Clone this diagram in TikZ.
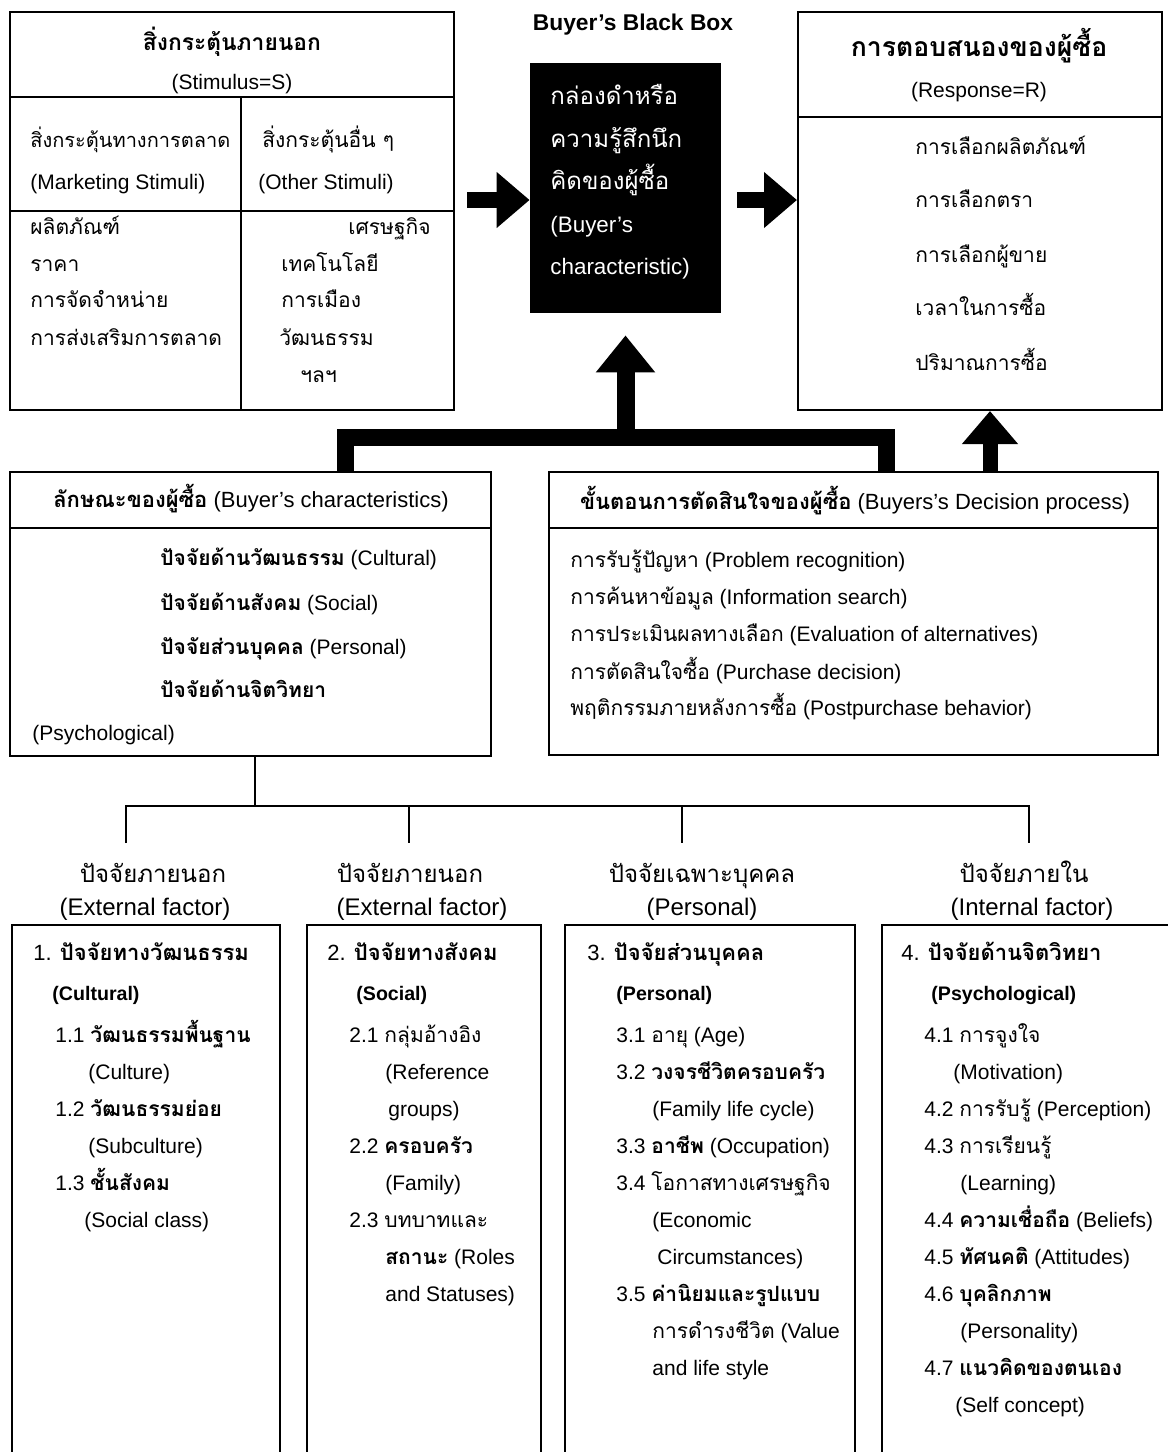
\documentclass[tikz,border=0pt]{standalone}
\usepackage{fontspec}
\setmainfont{Liberation Sans}
\newfontfamily\thai[Script=Thai]{Loma}
\newcommand{\tha}[1]{{\thai #1}}
\newcommand{\thb}[1]{{\thai\bfseries #1}}
\usetikzlibrary{positioning,fit,arrows.meta}

\tikzset{
  frame/.style = {draw, line width=1pt, inner sep=0pt},
  txt/.style = {anchor=base west, inner sep=0pt, font=\fontsize{10.5}{12}\selectfont},
  ctxt/.style = {anchor=base, inner sep=0pt, font=\fontsize{10.5}{12}\selectfont},
  head/.style = {font=\fontsize{11}{13}\selectfont},
  sub/.style = {font=\fontsize{9.8}{11}\selectfont\bfseries},
  lbl/.style = {anchor=base, inner sep=0pt, font=\fontsize{12}{14}\selectfont},
  fatline/.style = {line width=8.5pt, line join=miter},
  fatarrow/.style = {line width=8pt, -{Triangle[length=16.5pt,width=27pt]}},
  tree/.style = {line width=1pt}
}

\begin{document}
\begin{tikzpicture}[x=0.5pt, y=-0.5pt]
        \useasboundingbox (0,0) rectangle (1168,1452);
        \clip (0,0) rectangle (1168,1452);

        % stimulus box
        \node [frame, fit={(10,12) (454,410)}] (stim) {};
        \draw [tree] (10,97) -- (454,97);
        \draw [tree] (10,211) -- (454,211);
        \draw [tree] (241,97) -- (241,410);
        \node [ctxt, font=\fontsize{11.4}{14}\selectfont] (s0) at (232,50) {\thb{สิ่งกระตุ้นภายนอก}};
        \node [ctxt] (s1) at (232,89) {(Stimulus=S)};
        \node [txt, font=\fontsize{10}{12}\selectfont] (s2) at (30,147) {\tha{สิ่งกระตุ้นทางการตลาด}};
        \node [txt] (s3) at (30,189) {(Marketing Stimuli)};
        \node [txt] (s4) at (262,147) {\tha{สิ่งกระตุ้นอื่น ๆ}};
        \node [txt] (s5) at (258,189) {(Other Stimuli)};
        \node [txt] (s6) at (30,234) {\tha{ผลิตภัณฑ์}};
        \node [txt] (s7) at (30,271) {\tha{ราคา}};
        \node [txt] (s8) at (30,307) {\tha{การจัดจำหน่าย}};
        \node [txt] (s9) at (30,345) {\tha{การส่งเสริมการตลาด}};
        \node [txt] (s10) at (348,234) {\tha{เศรษฐกิจ}};
        \node [txt] (s11) at (281,271) {\tha{เทคโนโลยี}};
        \node [txt] (s12) at (281,307) {\tha{การเมือง}};
        \node [txt] (s13) at (279,345) {\tha{วัฒนธรรม}};
        \node [txt] (s14) at (300,382) {\tha{ฯลฯ}};

        % black box
        \node [ctxt, font=\fontsize{11.4}{14}\selectfont\bfseries] (title) at (633,30) {Buyer's Black Box};
        \node [fill=black, inner sep=0pt, fit={(530,63) (721,313)}] (bbox) {};
        \node [txt, white, font=\fontsize{12}{14}\selectfont] (b1) at (550,104) {\tha{กล่องดำหรือ}};
        \node [txt, white, font=\fontsize{12}{14}\selectfont] (b2) at (550,147) {\tha{ความรู้สึกนึก}};
        \node [txt, white, font=\fontsize{12}{14}\selectfont] (b3) at (550,189) {\tha{คิดของผู้ซื้อ}};
        \node [txt, white, font=\fontsize{11.2}{13}\selectfont] (b4) at (550,232) {(Buyer's};
        \node [txt, white, font=\fontsize{11.2}{13}\selectfont] (b5) at (550,274) {characteristic)};

        % response box
        \node [frame, fit={(798,12) (1162,410)}] (resp) {};
        \draw [tree] (798,117) -- (1162,117);
        \node [ctxt, font=\fontsize{13.3}{15}\selectfont] (r0) at (979,56) {\thb{การตอบสนองของผู้ซื้อ}};
        \node [ctxt] (r1) at (979,97) {(Response=R)};
        \node [txt] (r2) at (915,154) {\tha{การเลือกผลิตภัณฑ์}};
        \node [txt] (r3) at (915,207) {\tha{การเลือกตรา}};
        \node [txt] (r4) at (915,262) {\tha{การเลือกผู้ขาย}};
        \node [txt] (r5) at (915,315) {\tha{เวลาในการซื้อ}};
        \node [txt] (r6) at (915,370) {\tha{ปริมาณการซื้อ}};

        % buyer's characteristics
        \node [frame, fit={(10,472) (491,756)}] (char) {};
        \draw [tree] (10,528) -- (491,528);
        \node [ctxt, head] (c0) at (251,507) {\thb{ลักษณะของผู้ซื้อ} (Buyer's characteristics)};
        \node [txt] (c1) at (160,565) {\thb{ปัจจัยด้านวัฒนธรรม} (Cultural)};
        \node [txt] (c2) at (160,610) {\thb{ปัจจัยด้านสังคม} (Social)};
        \node [txt] (c3) at (160,654) {\thb{ปัจจัยส่วนบุคคล} (Personal)};
        \node [txt] (c4) at (160,697) {\thb{ปัจจัยด้านจิตวิทยา}};
        \node [txt] (c5) at (32,740) {(Psychological)};

        % decision process
        \node [frame, fit={(549,472) (1158,755)}] (dec) {};
        \draw [tree] (549,528) -- (1158,528);
        \node [ctxt, head] (d0) at (855,509) {\thb{ขั้นตอนการตัดสินใจของผู้ซื้อ} (Buyers's Decision process)};
        \node [txt] (d1) at (570,567) {\tha{การรับรู้ปัญหา} (Problem recognition)};
        \node [txt] (d2) at (570,604) {\tha{การค้นหาข้อมูล} (Information search)};
        \node [txt] (d3) at (570,641) {\tha{การประเมินผลทางเลือก} (Evaluation of alternatives)};
        \node [txt] (d4) at (570,679) {\tha{การตัดสินใจซื้อ} (Purchase decision)};
        \node [txt] (d5) at (570,715) {\tha{พฤติกรรมภายหลังการซื้อ} (Postpurchase behavior)};

        % arrows
        \coordinate (s2b) at (467,200);
        \coordinate (b2r) at (737,200);
        \coordinate (legL) at (345,437);
        \coordinate (legR) at (886,437);
        \coordinate (rx) at (990,0);
        \draw [fatarrow] (s2b) -- (s2b -| bbox.west);
        \draw [fatarrow] (b2r) -- (b2r -| resp.west);
        \draw [fatline] (char.north -| legL) -- (legL) -- (legR) -- (dec.north -| legR);
        \draw [fatarrow, line width=9pt, -{Triangle[length=18.5pt,width=28.5pt]}] (bbox.south |- legL) -- ([yshift=-11pt]bbox.south);
        \draw [fatarrow, line width=7.5pt] (dec.north -| rx) -- (resp.south -| rx);

        % factor tree
        \coordinate (hub) at (255,806);
        \draw [tree] (char.south -| hub) -- (hub);
        \draw [tree] (126,843) |- (1029,806) -- (1029,843);
        \draw [tree] (409,806) -- (409,843);
        \draw [tree] (682,806) -- (682,843);
        \node [lbl] (l1a) at (153,882) {\tha{ปัจจัยภายนอก}};
        \node [lbl] (l1b) at (145,915) {(External factor)};
        \node [lbl] (l2a) at (410,882) {\tha{ปัจจัยภายนอก}};
        \node [lbl] (l2b) at (422,915) {(External factor)};
        \node [lbl] (l3a) at (702,882) {\tha{ปัจจัยเฉพาะบุคคล}};
        \node [lbl] (l3b) at (702,915) {(Personal)};
        \node [lbl] (l4a) at (1024,882) {\tha{ปัจจัยภายใน}};
        \node [lbl] (l4b) at (1032,915) {(Internal factor)};

        % cultural
        \node [frame, fit={(12,925) (280,1470)}] (cul) {};
        \node [txt, head] (k0) at (33,960) {1. \thb{ปัจจัยทางวัฒนธรรม}};
        \node [txt, sub] (k1) at (52,1000) {(Cultural)};
        \node [txt] (k2) at (55,1042) {1.1 \thb{วัฒนธรรมพื้นฐาน}};
        \node [txt] (k3) at (88,1079) {(Culture)};
        \node [txt] (k4) at (55,1116) {1.2 \thb{วัฒนธรรมย่อย}};
        \node [txt] (k5) at (88,1153) {(Subculture)};
        \node [txt] (k6) at (55,1190) {1.3 \thb{ชั้นสังคม}};
        \node [txt] (k7) at (84,1227) {(Social class)};

        % social
        \node [frame, fit={(307,925) (541,1470)}] (soc) {};
        \node [txt, head] (o0) at (327,960) {2. \thb{ปัจจัยทางสังคม}};
        \node [txt, sub] (o1) at (356,1000) {(Social)};
        \node [txt] (o2) at (349,1042) {2.1 \tha{กลุ่มอ้างอิง}};
        \node [txt] (o3) at (385,1079) {(Reference};
        \node [txt] (o4) at (388,1116) {groups)};
        \node [txt] (o5) at (349,1153) {2.2 \thb{ครอบครัว}};
        \node [txt] (o6) at (385,1190) {(Family)};
        \node [txt] (o7) at (349,1227) {2.3 \tha{บทบาทและ}};
        \node [txt] (o8) at (385,1264) {\thb{สถานะ} (Roles};
        \node [txt] (o9) at (385,1301) {and Statuses)};

        % personal
        \node [frame, fit={(565,925) (855,1470)}] (per) {};
        \node [txt, head] (p0) at (587,960) {3. \thb{ปัจจัยส่วนบุคคล}};
        \node [txt, sub] (p1) at (616,1000) {(Personal)};
        \node [txt] (p2) at (616,1042) {3.1 \tha{อายุ} (Age)};
        \node [txt] (p3) at (616,1079) {3.2 \thb{วงจรชีวิตครอบครัว}};
        \node [txt] (p4) at (652,1116) {(Family life cycle)};
        \node [txt] (p5) at (616,1153) {3.3 \thb{อาชีพ} (Occupation)};
        \node [txt] (p6) at (616,1190) {3.4 \tha{โอกาสทางเศรษฐกิจ}};
        \node [txt] (p7) at (652,1227) {(Economic};
        \node [txt] (p8) at (657,1264) {Circumstances)};
        \node [txt] (p9) at (616,1301) {3.5 \thb{ค่านิยมและรูปแบบ}};
        \node [txt] (p10) at (652,1338) {\tha{การดำรงชีวิต} (Value};
        \node [txt] (p11) at (652,1375) {and life style};

        % psychological
        \node [frame, fit={(882,925) (1180,1470)}] (psy) {};
        \node [txt, head] (y0) at (901,960) {4. \thb{ปัจจัยด้านจิตวิทยา}};
        \node [txt, sub] (y1) at (931,1000) {(Psychological)};
        \node [txt] (y2) at (924,1042) {4.1 \tha{การจูงใจ}};
        \node [txt] (y3) at (953,1079) {(Motivation)};
        \node [txt] (y4) at (924,1116) {4.2 \tha{การรับรู้} (Perception)};
        \node [txt] (y5) at (924,1153) {4.3 \tha{การเรียนรู้}};
        \node [txt] (y6) at (960,1190) {(Learning)};
        \node [txt] (y7) at (924,1227) {4.4 \thb{ความเชื่อถือ} (Beliefs)};
        \node [txt] (y8) at (924,1264) {4.5 \thb{ทัศนคติ} (Attitudes)};
        \node [txt] (y9) at (924,1301) {4.6 \thb{บุคลิกภาพ}};
        \node [txt] (y10) at (960,1338) {(Personality)};
        \node [txt] (y11) at (924,1375) {4.7 \thb{แนวคิดของตนเอง}};
        \node [txt] (y12) at (955,1412) {(Self concept)};
      \end{tikzpicture}
\end{document}
